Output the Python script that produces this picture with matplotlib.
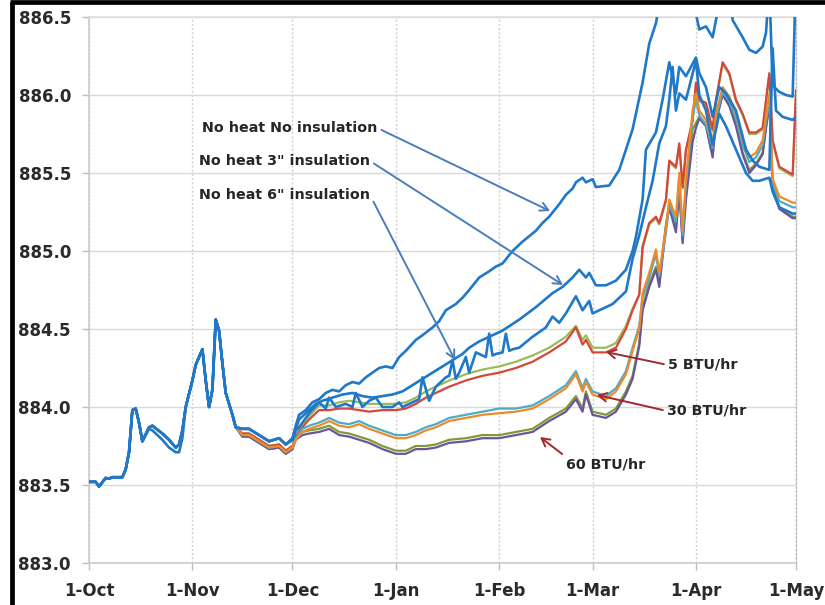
import numpy as np
import matplotlib
matplotlib.use('Agg')
import matplotlib.pyplot as plt
import matplotlib.dates as mdates
from matplotlib.lines import Line2D

start = np.datetime64('2010-10-01')

# ---------------- data (day offsets from 1-Oct) ----------------
base_days = [0, 2, 3, 5, 6, 7, 10, 11, 12, 13, 14, 15, 16, 18, 19, 22, 24, 26, 27, 28,
             29, 31, 32, 34, 35, 36, 37, 38, 39, 40, 41, 43, 44]
base_upper = [883.52, 883.52, 883.49, 883.545, 883.54, 883.55, 883.55, 883.60, 883.71, 883.98,
              883.99, 883.90, 883.78, 883.87, 883.88, 883.83, 883.79, 883.74, 883.76, 883.85,
              884.00, 884.17, 884.27, 884.37, 884.17, 884.00, 884.11, 884.56, 884.49, 884.28,
              884.09, 883.95, 883.87]
base_lower = [883.52, 883.52, 883.49, 883.545, 883.54, 883.55, 883.55, 883.60, 883.71, 883.98,
              883.99, 883.90, 883.78, 883.86, 883.85, 883.79, 883.74, 883.71, 883.71, 883.80,
              884.00, 884.17, 884.27, 884.37, 884.17, 884.00, 884.11, 884.56, 884.49, 884.28,
              884.09, 883.95, 883.87]

# No heat, no insulation
a_days = [46, 48, 51, 54, 57, 59, 61, 62, 63, 65, 67, 69, 71, 73, 75, 77, 79, 81, 83, 85,
          87, 89, 91, 93, 95, 98, 100, 103, 105, 107, 110, 112, 114, 117, 120, 122, 124, 127, 130, 134,
          136, 138, 141, 143, 145, 146, 148, 149, 151, 152, 156, 159, 161, 163, 166, 168, 170, 172, 181, 182,
          183, 185, 187, 188, 190, 192, 193, 196, 198, 200, 202, 203, 204, 205, 207, 209, 211, 212]
a_vals = [883.86, 883.86, 883.82, 883.78, 883.80, 883.76, 883.80, 883.88, 883.95, 883.98,
          884.03, 884.05, 884.09, 884.11, 884.10, 884.14, 884.16, 884.15, 884.19, 884.22,
          884.25, 884.26, 884.25, 884.32, 884.36, 884.43, 884.46, 884.51, 884.55, 884.62,
          884.66, 884.70, 884.75, 884.83, 884.87, 884.90, 884.92, 885.00, 885.06, 885.13,
          885.18, 885.22, 885.30, 885.36, 885.40, 885.44, 885.47, 885.44, 885.46, 885.41,
          885.42, 885.52, 885.65, 885.78, 886.08, 886.33, 886.46, 886.70, 886.70, 886.52,
          886.42, 886.44, 886.37, 886.48, 886.70, 886.70, 886.48, 886.37, 886.29, 886.27,
          886.31, 886.40, 886.70, 886.06, 886.02, 886.00, 885.99, 886.80]

# No heat, 3" insulation
b_days = [46, 48, 51, 54, 57, 59, 61, 62, 63, 66, 68, 70, 73, 76, 79, 82, 85, 88, 91, 94,
          97, 100, 103, 106, 109, 112, 114, 117, 120, 124, 129, 134, 139, 142, 145, 147, 149, 150, 152, 155,
          158, 161, 163, 164, 166, 167, 170, 172, 174, 176, 177, 179, 182, 183, 185, 187, 189, 191, 194, 197,
          199, 201, 204, 205, 206, 208, 211, 212]
b_vals = [883.86, 883.86, 883.82, 883.78, 883.80, 883.76, 883.79, 883.86, 883.92, 883.98,
          884.02, 884.04, 884.06, 884.08, 884.09, 884.07, 884.06, 884.07, 884.08, 884.10,
          884.14, 884.18, 884.22, 884.26, 884.30, 884.34, 884.38, 884.42, 884.45, 884.49,
          884.56, 884.64, 884.73, 884.77, 884.83, 884.88, 884.83, 884.86, 884.78, 884.78,
          884.81, 884.88, 885.00, 885.09, 885.33, 885.65, 885.76, 885.97, 886.21, 886.01,
          886.18, 886.12, 886.24, 886.14, 886.05, 885.86, 886.05, 886.01, 885.90, 885.65,
          885.58, 885.54, 885.52, 886.30, 885.90, 885.86, 885.84, 885.86]

# No heat, 6" insulation
c_days = [46, 48, 51, 54, 57, 59, 61, 62, 63, 66, 69, 71, 72, 74, 77, 79, 80, 82, 84, 86,
          88, 91, 93, 94, 97, 99, 100, 102, 104, 107, 108, 109, 110, 111, 113, 114, 116, 119, 120, 121,
          122, 124, 125, 126, 127, 129, 133, 137, 139, 141, 143, 146, 148, 150, 151, 153, 157, 161, 163, 165,
          167, 169, 171, 173, 174, 175, 176, 177, 179, 182, 183, 185, 187, 189, 191, 194, 197, 199, 201, 204,
          205, 207, 211, 212]
c_vals = [883.86, 883.86, 883.82, 883.78, 883.80, 883.76, 883.79, 883.85, 883.87, 883.96,
          884.03, 883.99, 884.06, 884.00, 884.02, 884.00, 884.09, 884.00, 884.04, 884.06,
          884.00, 884.00, 884.03, 884.00, 884.03, 884.05, 884.19, 884.04, 884.13, 884.19,
          884.20, 884.30, 884.18, 884.22, 884.32, 884.22, 884.35, 884.32, 884.47, 884.33,
          884.34, 884.35, 884.47, 884.36, 884.37, 884.38, 884.45, 884.51, 884.58, 884.54,
          884.60, 884.71, 884.62, 884.68, 884.60, 884.62, 884.66, 884.74, 884.95, 885.10,
          885.28, 885.45, 885.69, 885.80, 885.97, 886.18, 885.90, 886.01, 885.97, 886.22,
          886.00, 885.90, 885.68, 885.88, 885.80, 885.65, 885.50, 885.45, 885.45, 885.47,
          885.38, 885.28, 885.24, 885.24]

heat_days = [46, 48, 51, 54, 57, 59, 61, 62, 64, 66,
             69, 72, 75, 78, 81, 84, 88, 92, 95, 98,
             101, 104, 108, 113, 118, 123, 128, 133, 138, 143,
             146, 148, 149, 151, 155, 158, 161, 163, 165, 166,
             168, 170, 171, 173, 174, 176, 177, 178, 179, 181,
             182, 183, 185, 187, 188, 190, 192, 194, 196, 198,
             200, 202, 204, 205, 207, 211, 212]
# 5 BTU/hr (green, red)
d_vals = [883.83, 883.83, 883.79, 883.75, 883.76, 883.72, 883.75, 883.82, 883.89, 883.94,
          884.01, 884.01, 884.03, 884.04, 884.03, 884.02, 884.02, 884.02, 884.03, 884.06,
          884.10, 884.13, 884.17, 884.21, 884.24, 884.26, 884.29, 884.33, 884.38, 884.45,
          884.52, 884.43, 884.46, 884.38, 884.38, 884.41, 884.52, 884.63, 884.72, 885.02,
          885.17, 885.21, 885.17, 885.32, 885.57, 885.53, 885.68, 885.40, 885.64, 885.83,
          886.07, 885.96, 885.94, 885.77, 885.96, 886.20, 886.13, 885.96, 885.87, 885.75,
          885.75, 885.78, 886.13, 885.70, 885.53, 885.48, 886.00]
e_vals = [883.83, 883.83, 883.79, 883.75, 883.76, 883.72, 883.75, 883.81, 883.87, 883.92,
          883.98, 883.98, 883.99, 883.99, 883.98, 883.97, 883.98, 883.98, 883.99, 884.02,
          884.06, 884.09, 884.13, 884.17, 884.20, 884.22, 884.25, 884.29, 884.35, 884.42,
          884.51, 884.40, 884.43, 884.35, 884.35, 884.38, 884.50, 884.62, 884.72, 885.03,
          885.18, 885.22, 885.18, 885.33, 885.58, 885.54, 885.69, 885.41, 885.65, 885.84,
          886.08, 885.97, 885.95, 885.78, 885.97, 886.21, 886.14, 885.97, 885.88, 885.76,
          885.76, 885.79, 886.14, 885.71, 885.54, 885.49, 886.03]
# 30 BTU/hr (teal, orange)
f_vals = [883.82, 883.82, 883.78, 883.74, 883.75, 883.71, 883.74, 883.80, 883.86, 883.88,
          883.90, 883.93, 883.90, 883.89, 883.91, 883.88, 883.85, 883.82, 883.82, 883.84,
          883.87, 883.89, 883.93, 883.95, 883.97, 883.99, 883.99, 884.01, 884.07, 884.14,
          884.23, 884.12, 884.18, 884.10, 884.07, 884.12, 884.23, 884.38, 884.52, 884.70,
          884.83, 884.98, 884.84, 885.12, 885.30, 885.19, 885.47, 885.10, 885.43, 885.86,
          885.97, 885.87, 885.81, 885.66, 885.85, 886.02, 885.96, 885.85, 885.68, 885.57,
          885.60, 885.68, 885.98, 885.43, 885.32, 885.28, 885.28]
g_vals = [883.82, 883.82, 883.78, 883.74, 883.75, 883.71, 883.74, 883.79, 883.84, 883.86,
          883.88, 883.91, 883.88, 883.87, 883.89, 883.86, 883.83, 883.80, 883.80, 883.82,
          883.85, 883.87, 883.91, 883.93, 883.95, 883.96, 883.97, 883.99, 884.05, 884.12,
          884.21, 884.10, 884.16, 884.08, 884.05, 884.10, 884.21, 884.36, 884.50, 884.73,
          884.86, 885.01, 884.86, 885.15, 885.33, 885.22, 885.50, 885.13, 885.46, 885.90,
          886.01, 885.90, 885.84, 885.69, 885.88, 886.05, 885.99, 885.88, 885.71, 885.60,
          885.63, 885.71, 886.01, 885.46, 885.35, 885.31, 885.31]
# 60 BTU/hr (olive, purple)
h_vals = [883.81, 883.81, 883.77, 883.73, 883.74, 883.70, 883.73, 883.80, 883.84, 883.85,
          883.86, 883.88, 883.84, 883.83, 883.81, 883.79, 883.75, 883.72, 883.72, 883.75,
          883.75, 883.76, 883.79, 883.80, 883.82, 883.82, 883.84, 883.86, 883.93, 883.99,
          884.07, 883.99, 884.10, 883.97, 883.95, 883.99, 884.10, 884.20, 884.41, 884.64,
          884.79, 884.90, 884.80, 885.17, 885.30, 885.14, 885.41, 885.07, 885.35, 885.78,
          885.82, 885.86, 885.81, 885.62, 885.84, 886.01, 885.94, 885.81, 885.63, 885.52,
          885.56, 885.63, 885.96, 885.41, 885.28, 885.22, 885.22]
i_vals = [883.81, 883.81, 883.77, 883.73, 883.74, 883.70, 883.73, 883.79, 883.82, 883.83,
          883.84, 883.86, 883.82, 883.81, 883.79, 883.77, 883.73, 883.70, 883.70, 883.73,
          883.73, 883.74, 883.77, 883.78, 883.80, 883.80, 883.82, 883.84, 883.91, 883.97,
          884.05, 883.97, 884.08, 883.95, 883.93, 883.97, 884.08, 884.18, 884.39, 884.62,
          884.77, 884.88, 884.77, 885.15, 885.28, 885.12, 885.39, 885.05, 885.33, 885.70,
          885.79, 885.85, 885.80, 885.60, 885.83, 886.00, 885.93, 885.80, 885.62, 885.50,
          885.55, 885.62, 885.95, 885.40, 885.27, 885.21, 885.21]

month_starts = ['2010-10-01', '2010-11-01', '2010-12-01', '2011-01-01',
                '2011-02-01', '2011-03-01', '2011-04-01', '2011-05-01']
month_labels = ['1-Oct', '1-Nov', '1-Dec', '1-Jan', '1-Feb', '1-Mar', '1-Apr', '1-May']
y_ticks = [883.0, 883.5, 884.0, 884.5, 885.0, 885.5, 886.0, 886.5]
y_labels = ['883.0', '883.5', '884.0', '884.5', '885.0', '885.5', '886.0', '886.5']

# ---------------- figure ----------------
W, H = 825, 605
fig = plt.figure(figsize=(W / 100, H / 100), dpi=100)
fig.patch.set_facecolor('white')
ax = fig.add_axes([89 / W, 1 - 563 / H, (796 - 89) / W, (563 - 17) / H])


def to_dates(days):
    return mdates.date2num(start + np.array(days, dtype='timedelta64[D]'))


def series(base, days, vals):
    x = np.concatenate([to_dates(base_days), to_dates(days)])
    y = np.concatenate([np.array(base), np.array(vals)])
    return x, y


heat_styles = [(d_vals, '#9bbb59', 1.6), (e_vals, '#d6473b', 1.6),
               (h_vals, '#7f9a38', 1.6), (i_vals, '#6a559a', 1.6),
               (f_vals, '#4bacc6', 1.6), (g_vals, '#ee8a2a', 1.6)]
for vals, col, lw in heat_styles:
    x, y = series(base_upper, heat_days, vals)
    ax.plot(x, y, color=col, lw=lw, solid_joinstyle='round', zorder=3)

blue = '#1f78c8'
for base, days, vals in [(base_upper, c_days, c_vals), (base_upper, b_days, b_vals),
                         (base_lower, a_days, a_vals)]:
    x, y = series(base, days, vals)
    ax.plot(x, y, color=blue, lw=1.9, solid_joinstyle='round', zorder=4)

xt = mdates.date2num(np.array(month_starts, dtype='datetime64[D]'))
ax.set_xlim(xt[0], xt[-1])
ax.set_ylim(883.0, 886.5)
ax.set_xticks(xt)
ax.set_xticklabels(month_labels)
ax.set_yticks(y_ticks)
ax.set_yticklabels(y_labels)

ax.grid(axis='y', color='#d9d9d9', lw=1.0, ls='-', zorder=0)
ax.grid(axis='x', color='#cfcfcf', lw=1.0, ls=(0, (1.5, 1.5)), zorder=0)
ax.set_axisbelow(True)
for s in ['left', 'bottom', 'top']:
    ax.spines[s].set_color('#c8c8c8')
    ax.spines[s].set_linewidth(1.1)
ax.spines['top'].set_color('#dedede')
ax.spines['right'].set_color('#bdbdbd')
ax.spines['right'].set_linestyle((0, (1.5, 1.5)))
ax.spines['right'].set_linewidth(1.0)

ax.tick_params(axis='both', colors='#c0c0c0', length=5, width=1, labelcolor='#2a2a2a')
ax.tick_params(axis='y', pad=8)
ax.tick_params(axis='x', pad=9)
for lab in ax.get_xticklabels() + ax.get_yticklabels():
    lab.set_fontfamily('DejaVu Sans')
    lab.set_fontweight('bold')
    lab.set_fontsize(12)

# ---------------- annotations ----------------
def px2data(px, py):
    d = (px - 89) / (796 - 89) * (xt[-1] - xt[0]) + xt[0]
    v = 886.5 - (py - 17) / (563 - 17) * 3.5
    return d, v


txt_kw = dict(fontsize=10.3, fontweight='bold', color='#262626', family='DejaVu Sans',
              va='center', ha='left', zorder=6)
blue_arrow = '#4a7ebb'
red_arrow = '#a3282b'

notes = [
    ('No heat No insulation', (202, 128), (550, 211), blue_arrow, (1, 0.5)),
    ('No heat 3" insulation', (199, 161), (563, 285), blue_arrow, (1, 0.5)),
    ('No heat 6" insulation', (199, 195), (455, 360), blue_arrow, (1, 0.5)),
    ('5 BTU/hr', (668, 365), (606, 352), red_arrow, (0, 0.5)),
    ('30 BTU/hr', (667, 411), (597, 395), red_arrow, (0, 0.5)),
    ('60 BTU/hr', (566, 464), (540, 437), red_arrow, (0, 1.0)),
]
for text, tpos, apos, col, rel in notes:
    ax.annotate(text, xy=px2data(*apos), xytext=px2data(*tpos),
                arrowprops=dict(arrowstyle='->,head_length=0.55,head_width=0.3',
                                color=col, lw=1.4, relpos=rel, shrinkA=1, shrinkB=0),
                **txt_kw)

# ---------------- frame ----------------
fig.add_artist(Line2D([11.5 / W, 11.5 / W], [0, 1 - 2 / H], color='black', lw=3.4,
                      transform=fig.transFigure, solid_capstyle='butt'))
fig.add_artist(Line2D([9.8 / W, 1], [1 - 2 / H, 1 - 2 / H], color='black', lw=3.4,
                      transform=fig.transFigure, solid_capstyle='butt'))

fig.savefig('out.png', dpi=100, facecolor='white')
